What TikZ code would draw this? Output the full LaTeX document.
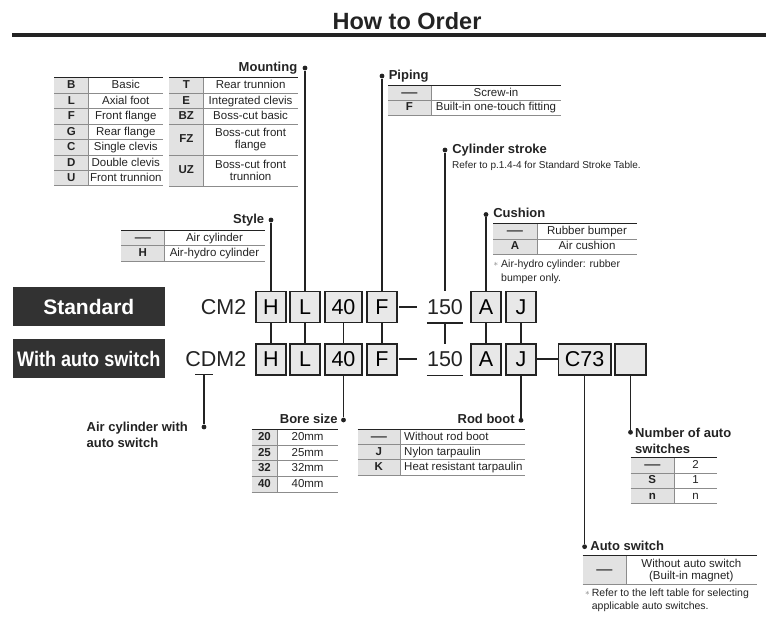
\documentclass[tikz,border=0pt]{standalone}
\usepackage{fontspec}
\setmainfont{Liberation Sans}
\usepackage{graphicx}
\usetikzlibrary{positioning}
\definecolor{ordDark}{RGB}{35,35,35}
\definecolor{ordBanner}{RGB}{50,50,50}
\definecolor{ordCell}{RGB}{226,226,226}
\definecolor{ordBox}{RGB}{232,232,232}
\definecolor{ordRule}{RGB}{140,140,140}
\definecolor{ordNote}{RGB}{120,120,120}
\newcommand{\keydash}{\scalebox{1.4}[1]{—}}

\begin{document}
\begin{tikzpicture}[x=1pt, y=-1pt,
  lead/.style={ordDark, line width=1.3pt},
  codedash/.style={ordDark, line width=2pt},
  dot/.style={circle, fill=ordDark, inner sep=0pt, minimum size=4.8pt},
  head/.style={font=\bfseries\fontsize{13}{15}\selectfont, text=ordDark, inner sep=0pt, text height=1.5ex, text depth=.25ex},
  headml/.style={font=\bfseries\fontsize{13}{16}\selectfont, text=ordDark, inner sep=0pt, align=left},
  toprule/.style={ordDark, line width=1.3pt},
  rowrule/.style={ordRule, line width=0.7pt},
  botrule/.style={ordRule, line width=1pt},
  key/.style={font=\bfseries\fontsize{11.5}{12}\selectfont, text=ordDark, inner sep=0pt, text height=1.5ex, text depth=.25ex},
  val/.style={font=\fontsize{11.5}{12}\selectfont, text=ordDark, inner sep=0pt, text height=1.5ex, text depth=.25ex},
  valml/.style={font=\fontsize{11.5}{11.7}\selectfont, text=ordDark, inner sep=0pt, align=center},
  note/.style={font=\fontsize{10.5}{12.3}\selectfont, text=ordDark, inner sep=0pt, align=left},
  star/.style={font=\small, text=ordNote, inner sep=0pt},
  codebox/.style={draw=ordDark, line width=1.3pt, fill=ordBox, minimum height=31pt, inner sep=0pt, font=\fontsize{21.5}{24}\selectfont},
  codetext/.style={inner sep=0pt, text=ordDark, font=\fontsize{21.5}{24}\selectfont},
  stroketext/.style={codetext, minimum width=34pt, minimum height=31pt},
  banner/.style={fill=ordBanner, text=white, minimum width=152.3pt, inner sep=0pt, font=\bfseries\fontsize{21}{24}\selectfont}
]
  \useasboundingbox (0,0) rectangle (766,617);

  % Title
  \node[font=\bfseries\fontsize{23.5}{26}\selectfont, text=ordDark, inner sep=0pt] (title) at (407,21) {How to Order};
  \draw[ordDark, line width=4pt] (12,35.3) -- (766,35.3);

  % Banners
  \node[banner, minimum height=38.7pt] (stdban) at (88.8,306.7) {Standard};
  \node[banner, minimum height=39.3pt] (swban) at (88.8,358.7) {\scalebox{0.86}[1]{With auto switch}};

  % Order code - standard
  \node[codetext, anchor=east] (cm) at (246.5,307.2) {CM2};
  \node[codebox, minimum width=30pt] (h1) at (271,307.2) {H};
  \node[codebox, minimum width=30pt] (l1) at (305,307.2) {L};
  \node[codebox, minimum width=37pt] (bore1) at (343.5,307.2) {40};
  \node[codebox, minimum width=30pt] (f1) at (382,307.2) {F};
  \node[stroketext] (s1) at (445,307.2) {150};
  \node[codebox, minimum width=30pt] (a1) at (486,307.2) {A};
  \node[codebox, minimum width=30pt] (j1) at (521,307.2) {J};

  % Order code - with auto switch
  \node[codetext, anchor=east] (cdm) at (246.5,359.5) {CDM2};
  \node[codebox, minimum width=30pt] (h2) at (271,359.5) {H};
  \node[codebox, minimum width=30pt] (l2) at (305,359.5) {L};
  \node[codebox, minimum width=37pt] (bore2) at (343.5,359.5) {40};
  \node[codebox, minimum width=30pt] (f2) at (382,359.5) {F};
  \node[stroketext] (s2) at (445,359.5) {150};
  \node[codebox, minimum width=30pt] (a2) at (486,359.5) {A};
  \node[codebox, minimum width=30pt] (j2) at (521,359.5) {J};
  \node[codebox, minimum width=52.6pt] (c2) at (584.6,359.5) {C73};
  \node[codebox, minimum width=31pt] (n2) at (630.5,359.5) {};

  % Dashes and underlines
  \draw[codedash] ([xshift=1.5pt]f1.east) -- ([xshift=-10pt]s1.west);
  \draw[codedash] ([xshift=1.5pt]f2.east) -- ([xshift=-10pt]s2.west);
  \draw[codedash] (j2.east) -- (c2.west);
  \draw[lead] (s1.south west) -- (s1.south east);
  \draw[lead] (s2.south west) -- (s2.south east);
  \coordinate (dmark) at (204,374.8);
  \draw[lead] ([xshift=-9pt]dmark) -- ([xshift=9pt]dmark);

  % Links between the two rows
  \foreach \c in {h,l,bore,f,s,a,j}
    \draw[lead] (\c1) -- (\c2);

  % Headings above
  \node[dot] (mtgdot) at (l1 |- 0,68) {};
  \node[head, left=5pt of mtgdot] (mtglab) {Mounting};
  \draw[lead] (mtgdot) -- (l1);
  \node[dot] (pipdot) at (f1 |- 0,76) {};
  \node[head, right=4pt of pipdot] (piplab) {Piping};
  \draw[lead] (pipdot) -- (f1);
  \node[dot] (strdot) at (s1 |- 0,150) {};
  \node[head, right=4.5pt of strdot] (strlab) {Cylinder stroke};
  \node[note, anchor=west, text height=1.5ex, text depth=.25ex, font=\fontsize{10}{12}\selectfont] (strnote) at (452,165) {Refer to p.1.4-4 for Standard Stroke Table.};
  \draw[lead] (strdot) -- (s1);
  \node[dot] (stydot) at (h1 |- 0,220) {};
  \node[head, left=4pt of stydot] (stylab) {Style};
  \draw[lead] (stydot) -- (h1);
  \node[dot] (cusdot) at (a1 |- 0,214.5) {};
  \node[head, right=4.5pt of cusdot] (cuslab) {Cushion};
  \draw[lead] (cusdot) -- (a1);

  % Headings below
  \node[dot] (acdot) at (dmark |- 0,427) {};
  \draw[lead] (dmark) -- (acdot);
  \node[headml, anchor=north west] (aclab) at (86.5,422.3) {Air cylinder with\\auto switch};
  \node[dot] (boredot) at (bore2 |- 0,420) {};
  \node[head, left=3pt of boredot] (borelab) {Bore size};
  \draw[lead] (bore2) -- (boredot);
  \node[dot] (rbdot) at (j2 |- 0,420.3) {};
  \node[head, left=3.5pt of rbdot] (rblab) {Rod boot};
  \draw[lead] (j2) -- (rbdot);
  \node[dot] (numdot) at (n2 |- 0,432.3) {};
  \node[headml, anchor=north west] (numlab) at (635,427.5) {Number of auto\\switches};
  \draw[lead] (n2) -- (numdot);
  \node[dot] (swdot) at (c2 |- 0,546.7) {};
  \node[head, right=3pt of swdot] (swlab) {Auto switch};
  \draw[lead] (c2) -- (swdot);

  % Mounting table - left half
  \fill[ordCell] (54,77.7) rectangle (88.7,186);
  \foreach \k/\v [count=\i] in {B/Basic,L/Axial foot,F/Front flange,G/Rear flange,C/Single clevis,D/Double clevis,U/Front trunnion}{
    \node[key] (mtgk\i) at (71.3,69.97+15.47*\i) {\k};
    \node[val] (mtgv\i) at (125.8,69.97+15.47*\i) {\v};
  }
  \foreach \i in {1,...,6}
    \draw[rowrule] (54,77.7+15.47*\i) -- (163,77.7+15.47*\i);
  \draw[rowrule] (88.7,77.7) -- (88.7,186);
  \draw[toprule] (54,77.7) -- (163,77.7);
  \draw[botrule] (54,186) -- (163,186);

  % Mounting table - right half
  \fill[ordCell] (169.3,77.7) rectangle (203.3,186);
  \foreach \k/\v/\s/\ya/\yb [count=\i] in {T/Rear trunnion/val/77.7/93.1,E/Integrated clevis/val/93.1/108.6,BZ/Boss-cut basic/val/108.6/124,FZ/{Boss-cut front\\flange}/valml/124/155,UZ/{Boss-cut front\\trunnion}/valml/155/186}{
    \node[key] (mtgrk\i) at (186.3,{(\ya+\yb)/2}) {\k};
    \node[\s] (mtgrv\i) at (250.6,{(\ya+\yb)/2}) {\v};
    \draw[rowrule] (169.3,\yb) -- (298,\yb);
  }
  \draw[rowrule] (203.3,77.7) -- (203.3,186);
  \draw[toprule] (169.3,77.7) -- (298,77.7);

  % Piping table
  \fill[ordCell] (388,85.4) rectangle (431,115);
  \foreach \k/\v [count=\i] in {\keydash/Screw-in,F/Built-in one-touch fitting}{
    \node[key] (pipk\i) at (409.5,78+14.8*\i) {\k};
    \node[val] (pipv\i) at (496,78+14.8*\i) {\v};
    \draw[rowrule] (388,85.4+14.8*\i) -- (561,85.4+14.8*\i);
  }
  \draw[rowrule] (431,85.4) -- (431,115);
  \draw[toprule] (388,85.4) -- (561,85.4);

  % Style table
  \fill[ordCell] (121,230.3) rectangle (164.5,261.4);
  \foreach \k/\v [count=\i] in {\keydash/Air cylinder,H/Air-hydro cylinder}{
    \node[key] (styk\i) at (142.8,222.5+15.55*\i) {\k};
    \node[val] (styv\i) at (214.5,222.5+15.55*\i) {\v};
    \draw[rowrule] (121,230.3+15.55*\i) -- (264.5,230.3+15.55*\i);
  }
  \draw[rowrule] (164.5,230.3) -- (164.5,261.4);
  \draw[toprule] (121,230.3) -- (264.5,230.3);

  % Cushion table
  \fill[ordCell] (493,223.4) rectangle (537,254.5);
  \foreach \k/\v [count=\i] in {\keydash/Rubber bumper,A/Air cushion}{
    \node[key] (cusk\i) at (515,215.6+15.55*\i) {\k};
    \node[val] (cusv\i) at (587,215.6+15.55*\i) {\v};
    \draw[rowrule] (493,223.4+15.55*\i) -- (637,223.4+15.55*\i);
  }
  \draw[rowrule] (537,223.4) -- (537,254.5);
  \draw[toprule] (493,223.4) -- (637,223.4);
  \node[star] (cusstar) at (496,264) {$\ast$};
  \node[note, anchor=north west, font=\fontsize{10.5}{13.8}\selectfont] (cusnote) at (501,259.9) {Air-hydro cylinder: rubber\\bumper only.};

  % Bore size table
  \fill[ordCell] (251.7,429.3) rectangle (277,492.3);
  \foreach \k [count=\i] in {20,25,32,40}{
    \node[key] (borek\i) at (264.4,421.4+15.75*\i) {\k};
    \node[val] (borev\i) at (307.6,421.4+15.75*\i) {\k mm};
    \draw[rowrule] (251.7,429.3+15.75*\i) -- (338.3,429.3+15.75*\i);
  }
  \draw[rowrule] (277,429.3) -- (277,492.3);
  \draw[toprule] (251.7,429.3) -- (338.3,429.3);

  % Rod boot table
  \fill[ordCell] (357.7,429.3) rectangle (400,475);
  \foreach \k/\v [count=\i] in {\keydash/Without rod boot,J/Nylon tarpaulin,K/Heat resistant tarpaulin}{
    \node[key] (rbk\i) at (378.8,421.7+15.23*\i) {\k};
    \node[val, anchor=west] (rbv\i) at (404,421.7+15.23*\i) {\v};
    \draw[rowrule] (357.7,429.3+15.23*\i) -- (525,429.3+15.23*\i);
  }
  \draw[rowrule] (400,429.3) -- (400,475);
  \draw[toprule] (357.7,429.3) -- (525,429.3);

  % Number of auto switches table
  \fill[ordCell] (630.7,457.7) rectangle (674,503.3);
  \foreach \k/\v [count=\i] in {\keydash/2,S/1,n/n}{
    \node[key] (numk\i) at (652.3,450.1+15.2*\i) {\k};
    \node[val] (numv\i) at (695.6,450.1+15.2*\i) {\v};
    \draw[rowrule] (630.7,457.7+15.2*\i) -- (717.3,457.7+15.2*\i);
  }
  \draw[rowrule] (674,457.7) -- (674,503.3);
  \draw[toprule] (630.7,457.7) -- (717.3,457.7);

  % Auto switch table
  \fill[ordCell] (582.7,555.3) rectangle (626,584.3);
  \node[key] (swk1) at (604.3,569.8) {\keydash};
  \node[valml] (swv1) at (691.3,570.3) {Without auto switch\\(Built-in magnet)};
  \draw[rowrule] (626,555.3) -- (626,584.3);
  \draw[toprule] (582.7,555.3) -- (756.7,555.3);
  \draw[botrule] (582.7,584.3) -- (756.7,584.3);
  \node[star] (swstar) at (587.5,593) {$\ast$};
  \node[note, anchor=north west] (swnote) at (591.7,588.9) {Refer to the left table for selecting\\applicable auto switches.};
\end{tikzpicture}
\end{document}
